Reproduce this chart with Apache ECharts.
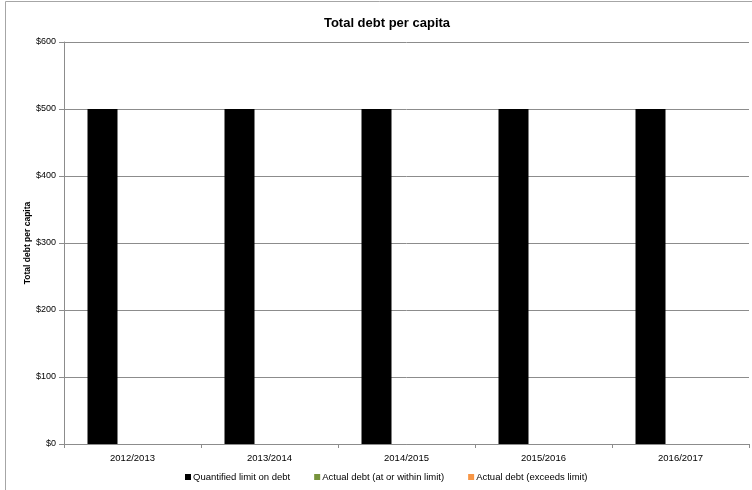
<!DOCTYPE html>
<html>
<head>
<meta charset="utf-8">
<script src="https://cdn.jsdelivr.net/npm/echarts@6/dist/echarts.min.js"></script>
<style>
  html, body { margin: 0; padding: 0; background: #fff; }
  #chart { width: 752px; height: 490px; }
</style>
</head>
<body>
<div id="chart"></div>
<script>
// Financial years on the x axis
const years = ['2012/2013', '2013/2014', '2014/2015', '2015/2016', '2016/2017'];
// Debt series (dollars per capita)
const quantifiedLimit = [500, 500, 500, 500, 500];
const actualWithinLimit = [null, null, null, null, null];
const actualExceedsLimit = [null, null, null, null, null];
// Y axis range and step
const yMin = 0, yMax = 600, yStep = 100;

const font = '"Liberation Sans", "DejaVu Sans", sans-serif';
const chart = echarts.init(document.getElementById('chart'), null, { renderer: 'canvas' });

chart.setOption({
  animation: false,
  backgroundColor: '#fff',
  textStyle: { fontFamily: font },
  title: {
    text: 'Total debt per capita',
    left: 382, top: 12, textAlign: 'center',
    textStyle: { fontSize: 13, fontWeight: 'bold', color: '#000', fontFamily: font }
  },
  graphic: [{
    type: 'rect', silent: true, z: -1,
    shape: { x: 5.5, y: 1.5, width: 800, height: 600 },
    style: { fill: 'none', stroke: '#a6a6a6', lineWidth: 1 }
  }],
  legend: {
    bottom: 3, left: 180,
    itemWidth: 6, itemHeight: 6, itemGap: 24,
    icon: 'rect',
    textStyle: { fontSize: 9.5, color: '#000', fontFamily: font, padding: [0, 0, 0, -3] },
    data: ['Quantified limit on debt', 'Actual debt (at or within limit)', 'Actual debt (exceeds limit)']
  },
  grid: { left: 64, right: 3, top: 42, bottom: 46, containLabel: false },
  xAxis: {
    type: 'category',
    data: years,
    boundaryGap: true,
    axisLine: { lineStyle: { color: '#8c8c8c', width: 1 } },
    axisTick: { show: true, length: 4, lineStyle: { color: '#8c8c8c' } },
    axisLabel: { fontSize: 9.5, color: '#000', margin: 9, fontFamily: font }
  },
  yAxis: {
    type: 'value',
    min: yMin, max: yMax, interval: yStep,
    name: 'Total debt per capita',
    nameLocation: 'middle', nameRotate: 90, nameGap: 32,
    nameMoveOverlap: false,
    nameTextStyle: { fontSize: 8.5, fontWeight: 'bold', color: '#000', fontFamily: font },
    axisLine: { show: true, lineStyle: { color: '#8c8c8c', width: 1 } },
    axisTick: { show: true, length: 5, lineStyle: { color: '#8c8c8c' } },
    axisLabel: { fontSize: 9, color: '#000', margin: 8, formatter: v => '$' + v, fontFamily: font },
    splitLine: { show: true, lineStyle: { color: '#8c8c8c', width: 1 } }
  },
  series: [
    { name: 'Quantified limit on debt', type: 'bar', data: quantifiedLimit,
      barWidth: 30, barGap: '0%', itemStyle: { color: '#000' } },
    { name: 'Actual debt (at or within limit)', type: 'bar', data: actualWithinLimit,
      barWidth: 30, barGap: '0%', itemStyle: { color: '#77933c' } },
    { name: 'Actual debt (exceeds limit)', type: 'bar', data: actualExceedsLimit,
      barWidth: 30, barGap: '0%', itemStyle: { color: '#f79646' } }
  ]
});
</script>
</body>
</html>
